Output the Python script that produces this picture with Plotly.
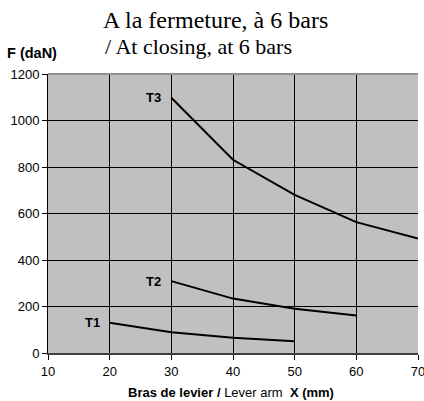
import plotly.graph_objects as go

x_t1 = [20, 30, 40, 50]
y_t1 = [130, 89, 66, 51]
x_t2 = [30, 40, 50, 60]
y_t2 = [309, 234, 190, 161]
x_t3 = [30, 40, 50, 60, 70]
y_t3 = [1098, 831, 680, 563, 492]
series_names = ["T1", "T2", "T3"]

fig = go.Figure()
for name, xs, ys in zip(series_names, [x_t1, x_t2, x_t3], [y_t1, y_t2, y_t3]):
    fig.add_trace(go.Scatter(x=xs, y=ys, mode="lines", name=name,
                             line=dict(color="black", width=2), showlegend=False,
                             hoverinfo="skip", cliponaxis=False))
    fig.add_annotation(x=xs[0], y=ys[0], text="<b>%s</b>" % name, showarrow=False,
                       xanchor="right", yanchor="middle", xshift=-8,
                       font=dict(family="Liberation Sans, Arial", size=13, color="black"))

fig.add_annotation(xref="paper", yref="paper", x=0.453, y=1.0, yshift=54,
                   text="A la fermeture, à 6 bars", showarrow=False,
                   xanchor="center", yanchor="middle",
                   font=dict(family="Liberation Serif, Times New Roman", size=24, color="black"))
fig.add_annotation(xref="paper", yref="paper", x=0.149, y=1.0, yshift=28,
                   text="/ At closing, at 6 bars", showarrow=False,
                   xanchor="left", yanchor="middle",
                   font=dict(family="Liberation Serif, Times New Roman", size=22, color="black"))
fig.add_annotation(xref="paper", yref="paper", x=-0.116, y=1.0, yshift=21,
                   text="<b>F (daN)</b>", showarrow=False,
                   xanchor="left", yanchor="middle",
                   font=dict(family="Liberation Sans, Arial", size=14.5, color="black"))
fig.add_annotation(xref="paper", yref="paper", x=0.494, y=0.0, yshift=-39,
                   text="<b>Bras de levier / </b>Lever arm  <b>X (mm)</b>", showarrow=False,
                   xanchor="center", yanchor="middle",
                   font=dict(family="Liberation Sans, Arial", size=13, color="black"))

fig.update_layout(
    width=424, height=401,
    margin=dict(l=48, r=6, t=74, b=48),
    paper_bgcolor="white", plot_bgcolor="#c0c0c0",
    font=dict(family="Liberation Sans, Arial", size=13, color="black"),
    xaxis=dict(range=[10, 70], dtick=10, tick0=10, showgrid=True, gridcolor="black",
               gridwidth=1, zeroline=False, showline=True, linecolor="#404040", linewidth=2,
               ticks="outside", ticklen=5, tickcolor="black", automargin=False,
               ticklabeloverflow="allow"),
    yaxis=dict(range=[0, 1200], dtick=200, showgrid=True, gridcolor="black", gridwidth=1,
               zeroline=False, showline=True, linecolor="black", linewidth=1,
               ticks="outside", ticklen=5, tickcolor="black", automargin=False),
)
fig.add_shape(type="line", xref="paper", yref="paper", x0=0, x1=1, y0=1, y1=1,
              line=dict(color="#909090", width=2))
fig.write_html("out.html", config={"displayModeBar": False},
               post_script="document.body.style.margin='0';")
